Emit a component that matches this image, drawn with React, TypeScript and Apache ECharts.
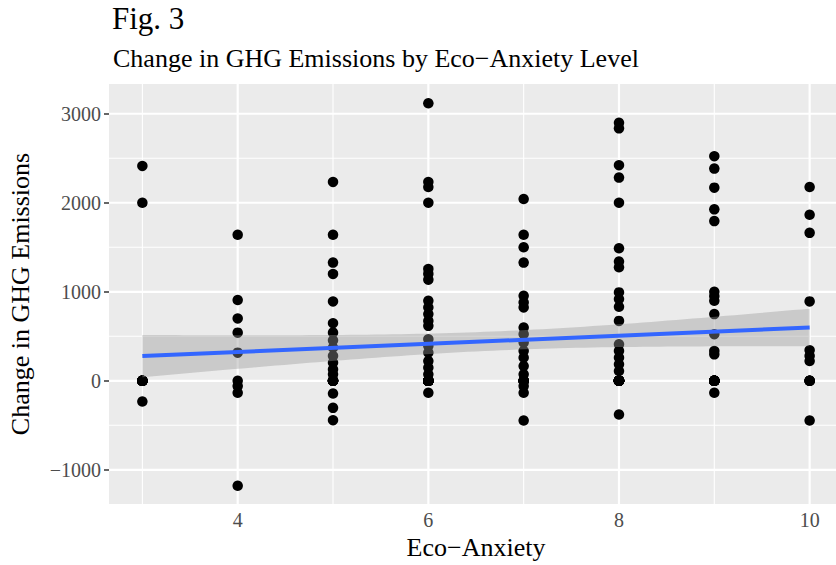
import React, { useEffect, useRef } from "react";
import * as echarts from "echarts";

// Eco-anxiety levels and change in GHG emissions observed at each level
const ecoLevels = [3, 4, 5, 6, 7, 8, 9, 10];
const ghgAt3 = [2414, 2000, 0, -233];
const ghgAt4 = [1640, 907, 700, 541, 316, 0, -60, -135, -1180];
const ghgAt5 = [2234, 1640, 1328, 1200, 891, 647, 541, 455, 372, 279, 203, 128, 72, 0, -143, -304, -443];
const ghgAt6 = [3118, 2234, 2177, 2001, 1256, 1200, 1136, 899, 824, 749, 673, 617, 467, 391, 316, 222, 147, 72, 0, -135];
const ghgAt7 = [2042, 1640, 1500, 1328, 955, 880, 824, 598, 523, 429, 335, 260, 166, 72, 0, -60, -135, -447];
const ghgAt8 = [2899, 2836, 2422, 2283, 2001, 1489, 1339, 1275, 993, 918, 831, 673, 410, 335, 260, 185, 109, 0, -379];
const ghgAt9 = [2523, 2384, 2170, 1926, 1794, 1000, 950, 899, 749, 523, 335, 297, 0, -135];
const ghgAt10 = [2177, 1865, 1662, 892, 343, 279, 222, 0, -447];
const ghgByLevel = [ghgAt3, ghgAt4, ghgAt5, ghgAt6, ghgAt7, ghgAt8, ghgAt9, ghgAt10];
// respondents with no change (0) hidden under the visible 0 point at each level
const extraZeroCounts = [11, 0, 8, 24, 5, 22, 14, 3];

// axis breaks
const xMajor = [4, 6, 8, 10];
const xMinor = [3, 5, 7, 9];
const yMajor = [-1000, 0, 1000, 2000, 3000];
const yMinor = [-500, 500, 1500, 2500];
const X_MIN = 2.65;
const X_MAX = 10.35;
const Y_MIN = -1384.5;
const Y_MAX = 3334.5;
const T_CRIT = 1.972; // t quantile (0.975) for ~195 df

const FONT = "'Liberation Serif', 'Times New Roman', serif";

function buildModel() {
  const pts: number[][] = [];
  ecoLevels.forEach((lv, i) => {
    ghgByLevel[i].forEach((v) => pts.push([lv, v]));
    for (let k = 0; k < extraZeroCounts[i]; k++) pts.push([lv, 0]);
  });
  const n = pts.length;
  const xbar = pts.reduce((s, p) => s + p[0], 0) / n;
  const ybar = pts.reduce((s, p) => s + p[1], 0) / n;
  let sxx = 0;
  let sxy = 0;
  pts.forEach((p) => {
    sxx += (p[0] - xbar) ** 2;
    sxy += (p[0] - xbar) * (p[1] - ybar);
  });
  const b = sxy / sxx;
  const a = ybar - b * xbar;
  let sse = 0;
  pts.forEach((p) => {
    sse += (p[1] - (a + b * p[0])) ** 2;
  });
  const s = Math.sqrt(sse / (n - 2));
  const xLo = Math.min(...ecoLevels);
  const xHi = Math.max(...ecoLevels);
  const band: number[][] = [];
  const steps = 80;
  for (let k = 0; k <= steps; k++) {
    const x0 = xLo + ((xHi - xLo) * k) / steps;
    const yh = a + b * x0;
    const se = s * Math.sqrt(1 / n + (x0 - xbar) ** 2 / sxx);
    band.push([x0, yh - T_CRIT * se, yh + T_CRIT * se]);
  }
  const fit = [
    [xLo, a + b * xLo],
    [xHi, a + b * xHi],
  ];
  return { pts, band, fit };
}

export default function App() {
  const ref = useRef<HTMLDivElement>(null);
  useEffect(() => {
    if (!ref.current) return;
    const chart = echarts.init(ref.current, null, { renderer: "svg" });
    const { pts, band, fit } = buildModel();

    const option: any = {
      animation: false,
      backgroundColor: "#FFFFFF",
      title: [
        {
          text: "Fig. 3",
          left: 107,
          top: -2,
          textStyle: { fontFamily: FONT, fontSize: 31, fontWeight: "normal", color: "#000000" },
        },
        {
          text: "Change in GHG Emissions by Eco\u2212Anxiety Level",
          left: 108,
          top: 40,
          textStyle: { fontFamily: FONT, fontSize: 26, fontWeight: "normal", color: "#000000" },
        },
      ],
      grid: {
        left: 109,
        top: 84,
        width: 734,
        height: 420,
        show: true,
        backgroundColor: "#EBEBEB",
        borderWidth: 0,
        containLabel: false,
        outerBoundsMode: "none",
      },
      xAxis: {
        type: "value",
        min: X_MIN,
        max: X_MAX,
        name: "Eco\u2212Anxiety",
        nameLocation: "middle",
        nameGap: 30,
        nameTextStyle: { fontFamily: FONT, fontSize: 26, color: "#000000" },
        axisLine: { show: false },
        splitLine: { show: false },
        axisTick: { show: true, customValues: xMajor, length: 5, lineStyle: { color: "#333333", width: 1.5 } },
        axisLabel: {
          customValues: xMajor,
          margin: 6,
          fontFamily: FONT,
          fontSize: 20,
          color: "#4D4D4D",
        },
      },
      yAxis: {
        type: "value",
        min: Y_MIN,
        max: Y_MAX,
        name: "Change in GHG Emissions",
        nameLocation: "middle",
        nameGap: 76,
        nameRotate: 90,
        nameTextStyle: { fontFamily: FONT, fontSize: 26, color: "#000000" },
        axisLine: { show: false },
        splitLine: { show: false },
        axisTick: { show: true, customValues: yMajor, length: 5, lineStyle: { color: "#333333", width: 1.5 } },
        axisLabel: {
          customValues: yMajor,
          margin: 8,
          fontFamily: FONT,
          fontSize: 20,
          color: "#4D4D4D",
          formatter: (v: number) => (v < 0 ? "\u2212" + Math.abs(v) : String(v)),
        },
      },
      series: [
        {
          type: "custom",
          name: "vgrid",
          z: 1,
          silent: true,
          data: xMinor.map((v) => [v, 0]).concat(xMajor.map((v) => [v, 1])),
          renderItem: (params: any, api: any) => {
            const cs = params.coordSys;
            const px = api.coord([api.value(0), 0])[0];
            const major = api.value(1) === 1;
            return {
              type: "line",
              shape: { x1: px, y1: cs.y, x2: px, y2: cs.y + cs.height },
              style: { stroke: "#FFFFFF", lineWidth: major ? 2.2 : 1.1 },
            };
          },
        },
        {
          type: "custom",
          name: "hgrid",
          z: 1,
          silent: true,
          encode: { x: 1, y: 0 },
          data: yMinor.map((v) => [v, 5]).concat(yMajor.map((v) => [v, 6])),
          renderItem: (params: any, api: any) => {
            const cs = params.coordSys;
            const py = api.coord([5, api.value(0)])[1];
            const major = api.value(1) === 6;
            return {
              type: "line",
              shape: { x1: cs.x, y1: py, x2: cs.x + cs.width, y2: py },
              style: { stroke: "#FFFFFF", lineWidth: major ? 2.2 : 1.1 },
            };
          },
        },
        {
          type: "scatter",
          name: "points",
          z: 3,
          symbol: "circle",
          symbolSize: 10.5,
          itemStyle: { color: "#000000", opacity: 1 },
          data: pts,
        },
        {
          type: "custom",
          name: "ci",
          z: 4,
          silent: true,
          data: [[band[0][0], band[0][1]]],
          renderItem: (params: any, api: any) => {
            const upper = band.map((r) => api.coord([r[0], r[2]]));
            const lower = band
              .slice()
              .reverse()
              .map((r) => api.coord([r[0], r[1]]));
            return {
              type: "polygon",
              shape: { points: upper.concat(lower) },
              style: { fill: "rgba(153,153,153,0.4)", stroke: "none" },
            };
          },
        },
        {
          type: "line",
          name: "fit",
          z: 5,
          showSymbol: false,
          symbol: "none",
          lineStyle: { color: "#3366FF", width: 4 },
          data: fit,
        },
      ],
    };
    chart.setOption(option);
    return () => chart.dispose();
  }, []);
  return (
    <div
      ref={ref}
      style={{ position: "fixed", left: 0, top: 0, width: 836, height: 565 }}
    />
  );
}
